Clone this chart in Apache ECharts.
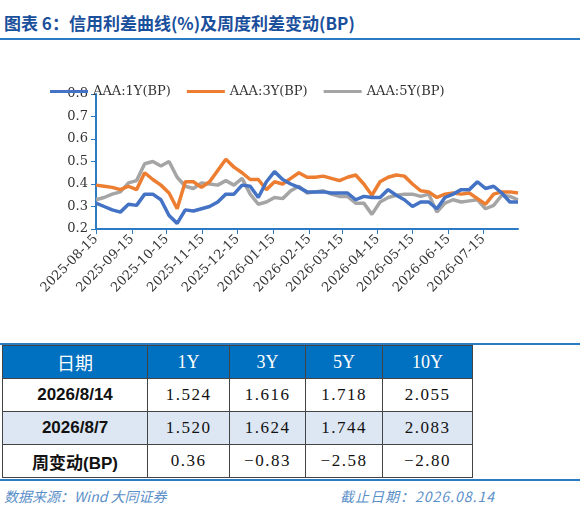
<!DOCTYPE html>
<html><head><meta charset="utf-8">
<script src="https://cdn.jsdelivr.net/npm/echarts@6/dist/echarts.min.js"></script>
<style>
body{margin:0;width:580px;height:514px;position:relative;background:#fff;font-family:"Liberation Serif","Noto Sans CJK SC",serif;overflow:hidden}
#title{position:absolute;left:4px;top:10px;font:bold 17px "Noto Sans CJK SC",sans-serif;color:#1a4f9c}
#tline{position:absolute;left:0;top:38px;width:580px;height:2px;background:#2a7bc4}
#chart{position:absolute;left:0;top:50px;width:580px;height:290px}
.hl{position:absolute;left:0;width:580px;height:2px;background:#2a7bc4}
table{position:absolute;left:2px;top:345px;border-collapse:collapse;font-family:"Liberation Serif","Noto Sans CJK SC",serif}
td{border:1px solid #444;text-align:center;height:32px;padding:0;font-size:17px;color:#111;letter-spacing:1.5px}
tr.h td{background:#0070c0;color:#fff;font-size:18px;letter-spacing:0}
tr.l td{background:#dde7f3}
td.b{font-family:"Liberation Sans","Noto Sans CJK SC",sans-serif;font-weight:bold;font-size:17px;letter-spacing:0}
.foot{position:absolute;top:486px;font:italic 14px "Noto Sans CJK SC",serif;color:#5b8fc9}
</style></head><body>
<div id="title">图表 6：信用利差曲线(%)及周度利差变动(BP)</div>
<div id="tline"></div>
<div id="chart"></div>
<div class="hl" style="top:343px"></div>
<table>
<colgroup><col style="width:145px"><col style="width:82px"><col style="width:76px"><col style="width:77px"><col style="width:90px"></colgroup>
<tr class="h"><td>日期</td><td>1Y</td><td>3Y</td><td>5Y</td><td>10Y</td></tr>
<tr><td class="b">2026/8/14</td><td>1.524</td><td>1.616</td><td>1.718</td><td>2.055</td></tr>
<tr class="l"><td class="b">2026/8/7</td><td>1.520</td><td>1.624</td><td>1.744</td><td>2.083</td></tr>
<tr><td class="b">周变动(BP)</td><td>0.36</td><td>−0.83</td><td>−2.58</td><td>−2.80</td></tr>
</table>
<div class="hl" style="top:479px"></div>
<div class="foot" style="left:4px">数据来源：Wind 大同证券</div>
<div class="foot" style="left:340px;letter-spacing:1px">截止日期：2026.08.14</div>
<script>
const aaa1Y=[.315,.30,.285,.275,.31,.305,.355,.355,.33,.26,.225,.285,.28,.29,.30,.32,.355,.355,.395,.39,.34,.41,.455,.42,.40,.385,.365,.365,.365,.36,.36,.36,.33,.345,.34,.34,.375,.35,.33,.30,.32,.32,.29,.34,.355,.375,.375,.41,.38,.39,.36,.32,.32];
const aaa3Y=[.395,.39,.385,.375,.39,.375,.45,.42,.395,.36,.29,.41,.41,.385,.41,.46,.51,.475,.45,.42,.42,.375,.41,.40,.425,.45,.43,.43,.435,.425,.415,.43,.44,.40,.35,.41,.43,.44,.435,.40,.37,.365,.34,.355,.36,.355,.36,.335,.31,.355,.365,.365,.36];
const aaa5Y=[.33,.34,.355,.365,.405,.415,.49,.50,.48,.50,.43,.39,.38,.405,.40,.395,.415,.395,.425,.355,.31,.32,.34,.335,.37,.39,.36,.365,.37,.355,.345,.345,.315,.315,.265,.32,.34,.35,.355,.355,.345,.355,.275,.315,.33,.32,.325,.33,.29,.305,.35,.345,.33];
const seriesNames=['AAA:1Y(BP)','AAA:3Y(BP)','AAA:5Y(BP)'];
const colors=['#4472c4','#ed7d31','#a5a5a5'];
function fmt(d){return d.toISOString().slice(0,10);}
const days=[];const start=Date.UTC(2025,7,15);
for(let i=0;i<=364;i++)days.push(fmt(new Date(start+i*86400000)));
const weeks=aaa1Y.map((_,i)=>fmt(new Date(start+i*7*86400000)));
const show=(i,v)=>v.endsWith('-15');
const lab={fontFamily:'DejaVu Serif',fontSize:13,color:'#333'};
const chart=echarts.init(document.getElementById('chart'));
chart.setOption({
 animation:false,
 legend:{top:30,left:45,itemWidth:38,itemHeight:3,itemGap:16,icon:'rect',textStyle:lab,data:seriesNames},
 grid:{left:96,right:62,top:44,bottom:111},
 xAxis:{type:'category',data:days,boundaryGap:false,axisLine:{lineStyle:{color:'#2a7bc4',width:2}},
  axisTick:{interval:show,length:5,lineStyle:{color:'#2a7bc4'}},
  axisLabel:Object.assign({interval:show,rotate:45,margin:8},lab)},
 yAxis:{type:'value',min:0.2,max:0.8,interval:0.1,splitLine:{show:false},
  axisLine:{show:true,lineStyle:{color:'#2a7bc4',width:2}},axisTick:{show:true,length:5,lineStyle:{color:'#2a7bc4'}},
  axisLabel:Object.assign({formatter:v=>v.toFixed(1)},lab)},
 series:[aaa1Y,aaa3Y,aaa5Y].map((arr,k)=>({name:seriesNames[k],type:'line',showSymbol:false,
  lineStyle:{width:3.5,color:colors[k]},itemStyle:{color:colors[k]},z:3-k,
  data:arr.map((v,i)=>[weeks[i],v])}))
});
</script></body></html>
